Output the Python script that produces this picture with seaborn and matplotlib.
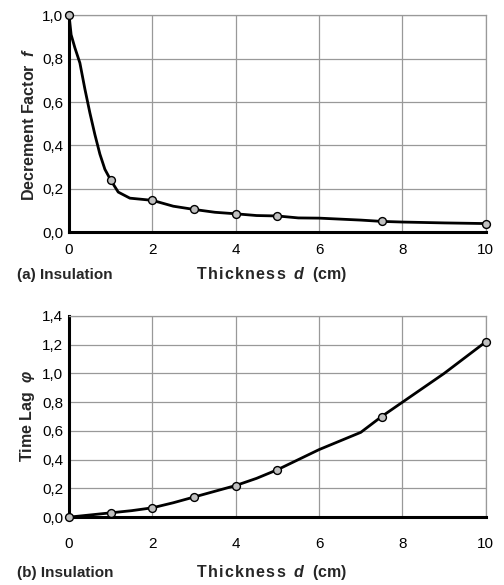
import numpy as np
import pandas as pd
import seaborn as sns
import matplotlib.pyplot as plt
from matplotlib.ticker import MultipleLocator, FuncFormatter

# -------------------------
# Data
# -------------------------
d_marks = [0, 1, 2, 3, 4, 5, 7.5, 10]
f_marks = [1.0, 0.24, 0.147, 0.105, 0.085, 0.075, 0.05, 0.04]
lag_marks = [0.0, 0.03, 0.065, 0.14, 0.22, 0.33, 0.70, 1.22]

# traced curve (the line is drawn through more points than the markers)
d_curve_f = [0, 0.05, 0.14, 0.26, 0.38, 0.5, 0.62, 0.74, 0.86, 1, 1.18, 1.46, 2, 2.5, 3, 3.5,
             4, 4.5, 5, 5.5, 6, 7, 7.5, 8, 9, 10]
f_curve = [1.0, 0.91, 0.85, 0.78, 0.66, 0.55, 0.45, 0.36, 0.29, 0.24, 0.185, 0.157, 0.147,
           0.12, 0.105, 0.092, 0.085, 0.077, 0.075, 0.066, 0.065, 0.056, 0.05, 0.047, 0.043, 0.04]
d_curve_lag = [0, 1, 1.5, 2, 2.5, 3, 3.5, 4, 4.5, 5, 6, 7, 7.5, 8, 9, 10]
lag_curve = [0.0, 0.03, 0.045, 0.065, 0.10, 0.14, 0.18, 0.22, 0.27, 0.33, 0.47, 0.59, 0.70,
             0.80, 1.0, 1.22]

marks = pd.DataFrame({"d": d_marks, "f": f_marks, "lag": lag_marks})
curve_f = pd.DataFrame({"d": d_curve_f, "f": f_curve})
curve_lag = pd.DataFrame({"d": d_curve_lag, "lag": lag_curve})

# -------------------------
# Style
# -------------------------
sns.set_style("white")
plt.rcParams["font.family"] = ["Liberation Sans", "DejaVu Sans"]
plt.rcParams["mathtext.fontset"] = "custom"
plt.rcParams["mathtext.it"] = "Liberation Sans:bold:italic"
plt.rcParams["mathtext.rm"] = "Liberation Sans:bold"

fig = plt.figure(figsize=(5.04, 5.85), dpi=100)
ax1 = fig.add_axes([0.137, 0.603, 0.827, 0.371])
ax2 = fig.add_axes([0.137, 0.116, 0.827, 0.344])

comma = FuncFormatter(lambda v, p: f"{v:.1f}".replace(".", ","))
spaced = "\u200a".join("Thickness")


def style_axis(ax, ymax, ylabel, xpad):
    ax.set_xlim(0, 10)
    ax.set_ylim(0, ymax)
    ax.xaxis.set_major_locator(MultipleLocator(2))
    ax.xaxis.set_minor_locator(MultipleLocator(1))
    ax.yaxis.set_major_locator(MultipleLocator(0.2))
    ax.yaxis.set_minor_locator(MultipleLocator(0.1))
    ax.yaxis.set_major_formatter(comma)
    ax.grid(True, which="major", color="#999999", linewidth=0.9)
    ax.set_axisbelow(True)
    for s in ["top", "right"]:
        ax.spines[s].set_color("#999999")
        ax.spines[s].set_linewidth(0.9)
    for s in ["left", "bottom"]:
        ax.spines[s].set_color("black")
        ax.spines[s].set_linewidth(2.2)
    ax.tick_params(which="both", direction="in", width=1.8, colors="black",
                   labelsize=11, pad=4)
    ax.tick_params(which="major", length=4.5)
    ax.tick_params(which="minor", length=3.5)
    ax.tick_params(axis="x", pad=xpad)
    ax.set_ylabel(ylabel, fontsize=11.5, fontweight="bold", labelpad=4)
    ax.set_xlabel("")


def bottom_labels(tag, y):
    fig.text(0.034, y, f"{tag} Insulation", fontsize=11, fontweight="bold", va="baseline")
    fig.text(0.539, y, spaced + r"  $d$  (cm)", fontsize=11.5, fontweight="bold",
             ha="center", va="baseline")


# (a) decrement factor
sns.lineplot(data=curve_f, x="d", y="f", ax=ax1, color="black", linewidth=2.0,
             sort=False, clip_on=False)
sns.scatterplot(data=marks, x="d", y="f", ax=ax1, color="#c0c0c0", edgecolor="black",
                linewidth=1.0, s=32, zorder=5, clip_on=False)
style_axis(ax1, 1.0, r"Decrement Factor  $f$", 8)
bottom_labels("(a)", 0.523)

# (b) time lag
sns.lineplot(data=curve_lag, x="d", y="lag", ax=ax2, color="black", linewidth=2.0,
             sort=False, clip_on=False)
sns.scatterplot(data=marks, x="d", y="lag", ax=ax2, color="#c0c0c0", edgecolor="black",
                linewidth=1.0, s=32, zorder=5, clip_on=False)
style_axis(ax2, 1.4, r"Time Lag  $\varphi$", 14)
bottom_labels("(b)", 0.014)

fig.savefig("out.png", dpi=100, facecolor="white")
